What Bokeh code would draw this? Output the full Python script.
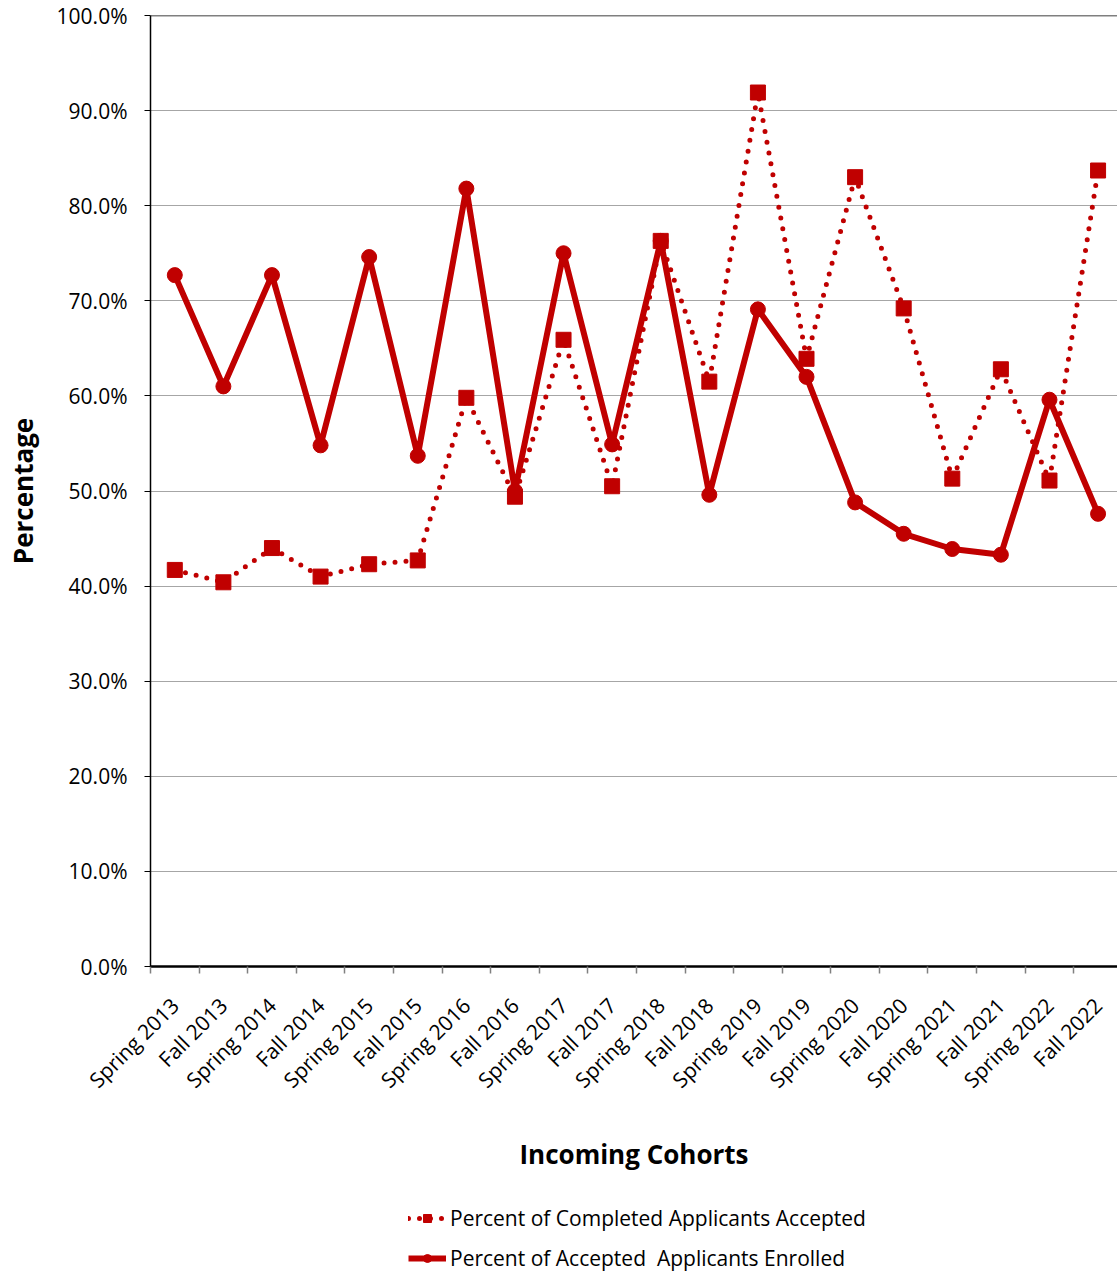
import math
from bokeh.plotting import figure
from bokeh.layouts import column
from bokeh.models import (FixedTicker, PrintfTickFormatter, Legend, LegendItem, Span, Range1d)
from bokeh.embed import file_html
from bokeh.resources import INLINE

cohorts = ["Spring 2013", "Fall 2013", "Spring 2014", "Fall 2014", "Spring 2015", "Fall 2015",
           "Spring 2016", "Fall 2016", "Spring 2017", "Fall 2017", "Spring 2018", "Fall 2018",
           "Spring 2019", "Fall 2019", "Spring 2020", "Fall 2020", "Spring 2021", "Fall 2021",
           "Spring 2022", "Fall 2022"]
pct_completed_accepted = [41.7, 40.4, 44.0, 41.0, 42.3, 42.7, 59.8, 49.4, 65.9, 50.5,
                          76.3, 61.5, 91.9, 63.9, 83.0, 69.2, 51.3, 62.8, 51.1, 83.7]
pct_accepted_enrolled = [72.7, 61.0, 72.7, 54.8, 74.6, 53.7, 81.8, 50.0, 75.0, 54.9,
                         76.3, 49.6, 69.1, 62.0, 48.8, 45.5, 43.9, 43.3, 59.6, 47.6]
y_ticks = [0, 10, 20, 30, 40, 50, 60, 70, 80, 90, 100]

RED = "#C00000"
FONT = "Open Sans"

xs = [i + 0.5 for i in range(len(cohorts))]

p = figure(width=1117, height=1190, output_backend="svg", toolbar_location=None,
           x_range=Range1d(0, 19.9), y_range=Range1d(0, 100),
           min_border_left=150, min_border_right=0, min_border_top=15, min_border_bottom=224)
p.outline_line_color = None
p.background_fill_color = "white"
p.border_fill_color = "white"

# grid
p.xgrid.visible = False
p.ygrid.ticker = FixedTicker(ticks=y_ticks[1:-1])
p.ygrid.grid_line_color = "#A6A6A6"
p.ygrid.grid_line_width = 1
p.add_layout(Span(location=100, dimension="width", line_color="black", line_width=1.5))

# y axis
p.yaxis.ticker = FixedTicker(ticks=y_ticks)
p.yaxis.formatter = PrintfTickFormatter(format="%.1f%%")
p.yaxis.major_label_text_font = FONT
p.yaxis.major_label_text_font_size = "21px"
p.yaxis.major_label_text_color = "black"
p.yaxis.major_tick_out = 6
p.yaxis.major_tick_in = 0
p.yaxis.minor_tick_line_color = None
p.yaxis.axis_line_color = "black"
p.yaxis.axis_line_width = 1.5
p.yaxis.major_label_standoff = 17
p.yaxis.axis_label = "Percentage"
p.yaxis.axis_label_text_font = FONT
p.yaxis.axis_label_text_font_style = "bold"
p.yaxis.axis_label_text_font_size = "26px"
p.yaxis.axis_label_text_color = "black"
p.yaxis.axis_label_standoff = 13

# x axis
p.xaxis.ticker = FixedTicker(ticks=xs, minor_ticks=list(range(0, 21)))
p.xaxis.major_label_overrides = {x: c for x, c in zip(xs, cohorts)}
p.xaxis.major_label_orientation = math.pi / 4
p.xaxis.major_label_text_font = FONT
p.xaxis.major_label_text_font_size = "21px"
p.xaxis.major_label_text_color = "black"
p.xaxis.major_tick_line_color = None
p.xaxis.minor_tick_out = 7
p.xaxis.minor_tick_in = 0
p.xaxis.minor_tick_line_color = "#808080"
p.xaxis.minor_tick_line_width = 1.5
p.xaxis.axis_line_color = "black"
p.xaxis.axis_line_width = 2.5
p.xaxis.major_label_standoff = 28
p.xaxis.axis_label = "Incoming Cohorts"
p.xaxis.axis_label_text_font = FONT
p.xaxis.axis_label_text_font_style = "bold"
p.xaxis.axis_label_text_font_size = "26px"
p.xaxis.axis_label_text_color = "black"
p.xaxis.axis_label_standoff = 30

# series
p.line(xs, pct_completed_accepted, line_color=RED, line_width=5,
       line_dash="0 11", line_cap="round")
p.scatter(xs, pct_completed_accepted, marker="square", size=15,
          fill_color=RED, line_color=RED)
p.line(xs, pct_accepted_enrolled, line_color=RED, line_width=6, line_join="round")
p.scatter(xs, pct_accepted_enrolled, marker="circle", size=15,
          fill_color=RED, line_color=RED)

# legend figure
lg = figure(width=1117, height=84, output_backend="svg", toolbar_location=None,
            x_range=Range1d(0, 1), y_range=Range1d(0, 1),
            min_border_left=150, min_border_right=0, min_border_top=0, min_border_bottom=0)
lg.axis.visible = False
lg.grid.visible = False
lg.outline_line_color = None
hx, hy = [-5, -4], [-5, -5]
l1 = lg.line(hx, hy, line_color=RED, line_width=5, line_dash="0 11", line_cap="round")
m1 = lg.scatter(hx, hy, marker="square", size=15, fill_color=RED, line_color=RED)
l2 = lg.line(hx, hy, line_color=RED, line_width=6)
m2 = lg.scatter(hx, hy, marker="circle", size=15, fill_color=RED, line_color=RED)
legend = Legend(items=[
    LegendItem(label="Percent of Completed Applicants Accepted", renderers=[l1, m1]),
    LegendItem(label="Percent of Accepted  Applicants Enrolled", renderers=[l2, m2]),
], location=(258, 2), orientation="vertical", border_line_color=None,
    background_fill_alpha=0,
    label_text_font=FONT, label_text_font_size="21px", label_text_color="black",
    glyph_width=38, glyph_height=20, spacing=12, label_standoff=4, margin=0, padding=0)
lg.add_layout(legend)

open("out.html", "w").write(file_html(column(p, lg, spacing=0), INLINE))
